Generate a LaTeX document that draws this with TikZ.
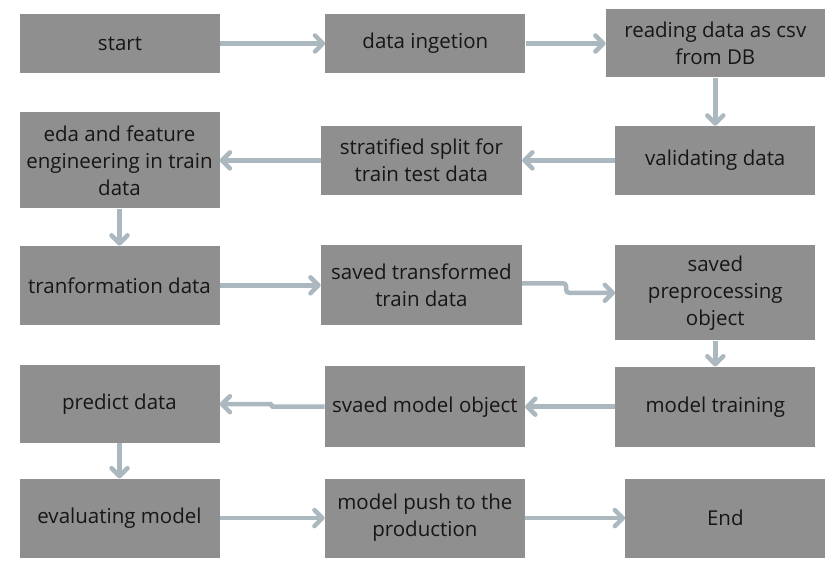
\documentclass[tikz,border=0pt]{standalone}
\usepackage{fontspec}
\setmainfont{Open Sans}
\usepackage{tikz}
\usetikzlibrary{
  arrows.meta,
  positioning,
}
\definecolor{boxgray}{RGB}{143, 143, 143}
\definecolor{arrowgray}{RGB}{172, 184, 191}
\definecolor{textdark}{RGB}{22, 22, 22}
\tikzstyle{arrow} = [
  -{Straight Barb[length=8pt,width=16pt,round]},
  line width=4.5pt,
  arrowgray,
  rounded corners=3pt,
]
\tikzstyle{block} = [
  rectangle,
  fill=boxgray,
  text=textdark,
  minimum width=200pt,
  inner sep=0pt,
  align=center,
  font=\fontsize{20.5}{27}\selectfont,
]

\begin{document}
\begin{tikzpicture}

        \useasboundingbox (0,0) rectangle (837pt,-583pt);

        \node[block,minimum height=59pt] (start) at (120pt,-43.5pt) {start};
        \node[block,minimum height=59pt] (ingetion) [right=105pt of start] {data ingetion};
        \node[block,minimum width=219pt,minimum height=68pt] (reading) [right=80pt of ingetion] {reading data as csv\\from DB};

        \node[block,minimum height=69pt] (validating) [below=48pt of reading] {validating data};
        \node[block,minimum width=201pt,minimum height=69pt] (stratified) [left=93pt of validating] {stratified split for\\train test data};
        \node[block,minimum height=96pt] (eda) [left=101pt of stratified] {eda and feature\\engineering in train\\data};

        \node[block,minimum height=79pt] (transform) [below=37pt of eda] {tranformation data};
        \node[block,minimum width=201pt,minimum height=80pt] (savedtrans) [right=101pt of transform] {saved transformed\\train data};
        \node[block,minimum height=95pt,yshift=-7.5pt] (savedprep) [right=93pt of savedtrans] {saved\\preprocessing\\object};

        \node[block,minimum height=80pt] (training) [below=26pt of savedprep] {model training};
        \node[block,minimum height=81pt] (savedmodel) [left=90pt of training] {svaed model object};
        \node[block,minimum height=78pt,yshift=2.5pt] (predict) [left=105pt of savedmodel] {predict data};

        \node[block,minimum height=79pt] (evaluating) [below=35pt of predict] {evaluating model};
        \node[block,minimum height=79pt] (push) [right=105pt of evaluating] {model push to the\\production};
        \node[block,minimum height=79pt] (end) [right=100pt of push] {End};

        \draw[arrow] (start.east) -- (ingetion.west);
        \draw[arrow] (ingetion.east) -- (reading.west);
        \draw[arrow] (reading.south) -- (validating.north);
        \draw[arrow] (validating.west) -- (stratified.east);
        \draw[arrow] (stratified.west) -- (eda.east);
        \draw[arrow] (eda.south) -- (transform.north);
        \draw[arrow] (transform.east) -- (savedtrans.east -| savedtrans.west);
        \draw[arrow] ([yshift=2pt]savedtrans.east) -- ++(44pt,0) |- (savedprep.west);
        \draw[arrow] (savedprep.south) -- (training.north);
        \draw[arrow] (training.west) -- (savedmodel.west -| savedmodel.east);
        \draw[arrow,rounded corners=1pt] (savedmodel.west) -- ++(-53pt,0) |- (predict.east);
        \draw[arrow] (predict.south) -- (evaluating.north);
        \draw[arrow] (evaluating.east) -- (push.west);
        \draw[arrow] (push.east) -- (end.west);

        \end{tikzpicture}
\end{document}
